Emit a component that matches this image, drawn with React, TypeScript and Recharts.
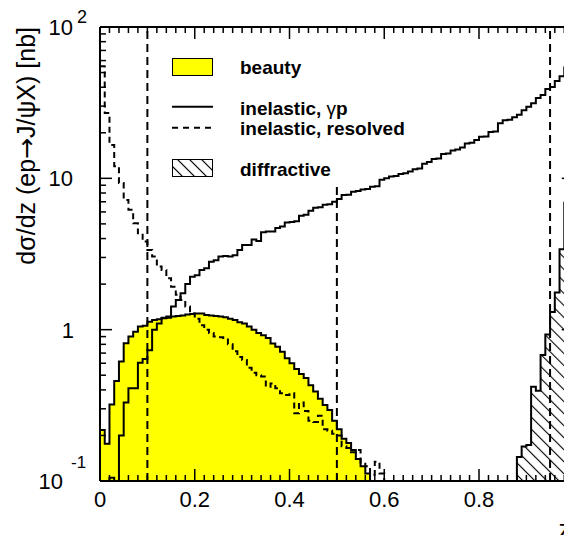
import React from "react";
import { ComposedChart, Area, Line, XAxis, YAxis, ReferenceLine } from "recharts";

// Histogram bin width in z
const BIN_WIDTH = 0.01;
// Stand-in for bins that lie below the lower edge of the plot
const UNDERFLOW = 0.03;

// beauty, bins from z = 0.00
const beautyValues = [
  0.217, 0.176, 0.32, 0.458, 0.615, 0.813, 0.9, 0.97, 1.05, 1.06,
  1.13, 1.16, 1.17, 1.19, 1.2, 1.22, 1.23, 1.24, 1.26, 1.27,
  1.28, 1.28, 1.25, 1.24, 1.23, 1.22, 1.21, 1.18, 1.16, 1.12,
  1.1, 1.05, 1.0, 0.95, 0.92, 0.88, 0.81, 0.77, 0.715, 0.647,
  0.6, 0.55, 0.51, 0.48, 0.43, 0.39, 0.35, 0.318, 0.295, 0.25,
  0.22, 0.19, 0.178, 0.16, 0.14, 0.125, 0.112,
];

// inelastic, γp, bins from z = 0.00
const gammaPValues = [
  0.03, 0.03, 0.105, 0.03, 0.2, 0.33, 0.41, 0.41, 0.605, 0.64,
  0.73, 1.0, 1.1, 1.2, 1.22, 1.42, 1.57, 1.74, 2.0, 2.24,
  2.29, 2.48, 2.55, 2.81, 2.88, 3.04, 3.07, 3.04, 3.1, 3.36,
  3.63, 3.63, 3.95, 3.85, 4.4, 4.45, 4.45, 4.7, 4.8, 5.1,
  5.15, 5.2, 5.65, 5.75, 6.1, 6.4, 6.45, 6.7, 6.75, 7.0,
  7.3, 7.75, 7.8, 8.15, 8.25, 8.45, 8.5, 8.8, 8.85, 9.8,
  10.0, 10.3, 10.35, 10.7, 10.8, 11.1, 11.5, 11.6, 12.5, 12.8,
  13.4, 13.5, 14.5, 14.6, 15.3, 15.5, 16.0, 17.0, 17.2, 17.9,
  18.8, 18.9, 20.2, 20.4, 23.1, 24.2, 24.4, 25.3, 26.3, 28.2,
  29.7, 31.3, 33.9, 35.6, 38.9, 40.2, 43.9, 47.3, 53.9, 59.5,
];

// inelastic, resolved, bins from z = 0.00
const resolvedValues = [
  55, 27, 16.6, 12, 9.3, 7.2, 6.2, 5.05, 4.33, 3.82,
  3.36, 3.04, 2.61, 2.48, 2.19, 1.92, 1.7, 1.57, 1.42, 1.28,
  1.18, 1.07, 1.0, 0.95, 0.9, 0.89, 0.88, 0.8, 0.72, 0.66,
  0.63, 0.56, 0.52, 0.5, 0.49, 0.42, 0.44, 0.41, 0.38, 0.37,
  0.38, 0.28, 0.33, 0.29, 0.25, 0.245, 0.27, 0.22, 0.215, 0.205,
  0.2, 0.17, 0.165, 0.155, 0.16, 0.13, 0.125, 0.11, 0.134, 0.112,
];

// diffractive, bins from z = 0.88
const diffractiveStart = 0.88;
const diffractiveValues = [0.144, 0.169, 0.173, 0.42, 0.395, 0.68, 0.93, 1.31, 1.76, 3.4, 6.9, 60];

// Cut lines: position in z and upper end in nb
const cutZ = [0.1, 0.5, 0.95];
const cutTop = [100, 8.9, 100];

// Axis ticks
const zMajorTicks = [0, 0.2, 0.4, 0.6, 0.8, 1];
const zMajorLabels = ["0", "0.2", "0.4", "0.6", "0.8", "1"];
const zMinorStep = 0.02;
const yDecades = [0.1, 1, 10, 100];
const yDecadeBase = ["10", "1", "10", "10"];
const yDecadeExp = ["-1", "", "", "2"];
const yMinorFactors = [2, 3, 4, 5, 6, 7, 8, 9];

const FONT = "'Liberation Sans', Arial, Helvetica, sans-serif";

type Pt = { z: number; v: number };
const r4 = (x: number) => Math.round(x * 10000) / 10000;

function histogram(values: number[], start: number, lead: boolean, tail: number | null): Pt[] {
  const pts: Pt[] = [];
  if (lead) pts.push({ z: r4(start - BIN_WIDTH), v: UNDERFLOW });
  values.forEach((v, i) => pts.push({ z: r4(start + i * BIN_WIDTH), v }));
  pts.push({ z: r4(start + values.length * BIN_WIDTH), v: tail ?? values[values.length - 1] });
  return pts;
}

const beautyData = histogram(beautyValues, 0, false, UNDERFLOW);
const gammaPData = histogram(gammaPValues, 0, false, null);
const resolvedData = histogram(resolvedValues, 0, false, UNDERFLOW);
const diffractiveData = histogram(diffractiveValues, diffractiveStart, true, null);

const zTicks: number[] = [];
for (let i = 0; i <= Math.round(1 / zMinorStep); i++) zTicks.push(r4(i * zMinorStep));

const yTicks: number[] = [];
yDecades.forEach((d, i) => {
  yTicks.push(d);
  if (i < yDecades.length - 1) yMinorFactors.forEach((f) => yTicks.push(r4(d * f)));
});

const zMajorIndex = (v: number) => zMajorTicks.findIndex((t) => Math.abs(t - v) < 1e-6);
const yDecadeIndex = (v: number) => yDecades.findIndex((t) => Math.abs(Math.log10(t) - Math.log10(v)) < 1e-6);

function BottomTick(props: any) {
  const { x, y, payload } = props;
  const idx = zMajorIndex(payload.value);
  const len = idx >= 0 ? 12 : 6;
  return (
    <g>
      <line x1={x} x2={x} y1={y} y2={y - len} stroke="#000" strokeWidth={1.5} />
      {idx >= 0 && (
        <text x={x} y={y + 26} textAnchor="middle" fontSize={22} fontFamily={FONT} fill="#000">
          {zMajorLabels[idx]}
        </text>
      )}
    </g>
  );
}

function TopTick(props: any) {
  const { x, y, payload } = props;
  const len = zMajorIndex(payload.value) >= 0 ? 12 : 6;
  return <line x1={x} x2={x} y1={y} y2={y + len} stroke="#000" strokeWidth={1.5} />;
}

function LeftTick(props: any) {
  const { x, y, payload } = props;
  const idx = yDecadeIndex(payload.value);
  const len = idx >= 0 ? 12 : 6;
  const base = idx >= 0 ? yDecadeBase[idx] : "";
  const exp = idx >= 0 ? yDecadeExp[idx] : "";
  const baseEnd = exp === "-1" ? x - 37 : base.length === 1 ? x - 26 : x - 27;
  return (
    <g>
      <line x1={x} x2={x + len} y1={y} y2={y} stroke="#000" strokeWidth={1.5} />
      {idx >= 0 && (
        <text x={baseEnd} y={y + 8} textAnchor="end" fontSize={22} fontFamily={FONT} fill="#000">
          {base}
        </text>
      )}
      {exp === "-1" && (
        <text x={x - 29} y={y - 13} fontSize={17} fontFamily={FONT} fill="#000">
          {exp}
        </text>
      )}
      {exp === "2" && (
        <text x={x - 23} y={y - 4} fontSize={18} fontFamily={FONT} fill="#000">
          {exp}
        </text>
      )}
    </g>
  );
}

function RightTick(props: any) {
  const { x, y, payload } = props;
  const len = yDecadeIndex(payload.value) >= 0 ? 12 : 6;
  return <line x1={x} x2={x - len} y1={y} y2={y} stroke="#000" strokeWidth={1.5} />;
}

function HatchPattern({ id }: { id: string }) {
  return (
    <pattern id={id} patternUnits="userSpaceOnUse" width="8.5" height="8.5" patternTransform="rotate(-45)">
      <line x1="4.25" y1="0" x2="4.25" y2="8.5" stroke="#000" strokeWidth="1.1" />
    </pattern>
  );
}

function LegendAndTitles() {
  const textStyle = { fontFamily: FONT, fontSize: 19, fontWeight: 700 as const };
  return (
    <svg
      width={564}
      height={535}
      style={{ position: "absolute", left: 0, top: 0, pointerEvents: "none" }}
    >
      <defs>
        <HatchPattern id="legendHatch" />
      </defs>
      <rect x={164.5} y={50.5} width={40} height={17} fill="#ffff00" stroke="#000" strokeWidth={1} />
      <text x={232} y={65.5} {...textStyle}>beauty</text>
      <line x1={164} x2={205} y1={98.7} y2={98.7} stroke="#000" strokeWidth={2} />
      <text x={232} y={106.5} {...textStyle}>
        inelastic, <tspan fontWeight={400}>γ</tspan>p
      </text>
      <line x1={164} x2={205} y1={119.7} y2={119.7} stroke="#000" strokeWidth={2} strokeDasharray="6 5" />
      <text x={232} y={126.5} {...textStyle}>inelastic, resolved</text>
      <rect x={164.5} y={151.5} width={40} height={17} fill="#fff" stroke="none" />
      <rect x={164.5} y={151.5} width={40} height={17} fill="url(#legendHatch)" stroke="#000" strokeWidth={1} />
      <text x={232} y={168} {...textStyle}>diffractive</text>

      <text
        x={27}
        y={19}
        transform="rotate(-90, 27, 19)"
        textAnchor="end"
        fontFamily={FONT}
        fontSize={25}
        fill="#000"
      >
        dσ/dz (ep<tspan fontFamily="'DejaVu Sans', sans-serif">→</tspan>J/ψX) [nb]
      </text>
      <text x={563} y={530} textAnchor="end" fontFamily={FONT} fontSize={25} fill="#000">
        z
      </text>
    </svg>
  );
}

export default function App() {
  return (
    <div
      style={{
        position: "relative",
        width: 564,
        height: 535,
        marginBottom: -8,
        overflow: "hidden",
        background: "#fff",
      }}
    >
      <ComposedChart
        width={575.75}
        height={535}
        margin={{ top: 0, right: 0, bottom: 0, left: 0 }}
        style={{ background: "#fff" }}
      >
        <defs>
          <HatchPattern id="diffHatch" />
        </defs>

        <XAxis
          xAxisId="bottom"
          dataKey="z"
          type="number"
          domain={[0, 1]}
          allowDataOverflow
          ticks={zTicks}
          interval={0}
          height={62}
          tickSize={0}
          tickMargin={0}
          tickLine={false}
          axisLine={{ stroke: "#000", strokeWidth: 2 }}
          tick={<BottomTick />}
        />
        <XAxis
          xAxisId="top"
          orientation="top"
          dataKey="z"
          type="number"
          domain={[0, 1]}
          allowDataOverflow
          ticks={zTicks}
          interval={0}
          height={19}
          tickSize={0}
          tickMargin={0}
          tickLine={false}
          axisLine={{ stroke: "#000", strokeWidth: 2 }}
          tick={<TopTick />}
        />
        <YAxis
          yAxisId="left"
          type="number"
          scale="log"
          domain={[0.1, 100]}
          allowDataOverflow
          ticks={yTicks}
          interval={0}
          width={92}
          tickSize={0}
          tickMargin={0}
          tickLine={false}
          axisLine={{ stroke: "#000", strokeWidth: 2 }}
          tick={<LeftTick />}
        />
        <YAxis
          yAxisId="right"
          orientation="right"
          type="number"
          scale="log"
          domain={[0.1, 100]}
          allowDataOverflow
          ticks={yTicks}
          interval={0}
          width={10}
          tickSize={0}
          tickMargin={0}
          tickLine={false}
          axisLine={{ stroke: "#000", strokeWidth: 2 }}
          tick={<RightTick />}
        />

        <Area
          xAxisId="bottom"
          yAxisId="left"
          data={beautyData}
          dataKey="v"
          type="stepAfter"
          baseValue={0.1}
          fill="#ffff00"
          fillOpacity={1}
          stroke="#000"
          strokeWidth={2}
          dot={false}
          activeDot={false}
          isAnimationActive={false}
        />
        <Area
          xAxisId="bottom"
          yAxisId="left"
          data={diffractiveData}
          dataKey="v"
          type="stepAfter"
          baseValue={0.1}
          fill="url(#diffHatch)"
          fillOpacity={1}
          stroke="#000"
          strokeWidth={2}
          dot={false}
          activeDot={false}
          isAnimationActive={false}
        />
        <Line
          xAxisId="bottom"
          yAxisId="left"
          data={gammaPData}
          dataKey="v"
          type="stepAfter"
          stroke="#000"
          strokeWidth={2}
          dot={false}
          activeDot={false}
          isAnimationActive={false}
        />
        <Line
          xAxisId="bottom"
          yAxisId="left"
          data={resolvedData}
          dataKey="v"
          type="stepAfter"
          stroke="#000"
          strokeWidth={2}
          strokeDasharray="6 4"
          dot={false}
          activeDot={false}
          isAnimationActive={false}
        />

        {cutZ.map((z, i) => (
          <ReferenceLine
            key={z}
            xAxisId="bottom"
            yAxisId="left"
            segment={[
              { x: z, y: 0.1 },
              { x: z, y: cutTop[i] },
            ]}
            stroke="#000"
            strokeWidth={2}
            strokeDasharray="8 5"
          />
        ))}
      </ComposedChart>
      <LegendAndTitles />
    </div>
  );
}
